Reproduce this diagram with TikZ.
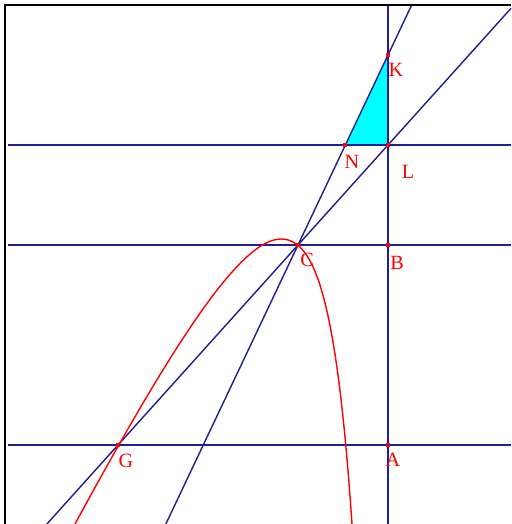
\documentclass[tikz,border=0pt]{standalone}
\usepackage{fontspec}
\setmainfont{Liberation Serif}
\usetikzlibrary{calc}
\definecolor{navy}{RGB}{30,30,150}
\definecolor{ptred}{RGB}{255,0,0}
\definecolor{fillcyan}{RGB}{0,255,255}
\tikzset{
  blueline/.style={draw=navy, line width=0.8pt},
  frameline/.style={draw=black, line width=1.3pt},
  curve/.style={draw=ptred, line width=0.8pt},
  lbl/.style={text=ptred, font=\fontsize{11.5}{13}\selectfont, inner sep=0pt},
  dot/.style={fill=ptred, rectangle, inner sep=0pt, minimum size=2.2pt}
}
\begin{document}
\begin{tikzpicture}[x=0.02cm,y=-0.02cm]
\useasboundingbox (0,0) rectangle (511,524);
\fill[white] (0,0) rectangle (511,524);
% points
\coordinate (K) at (388,55);
\coordinate (L) at (388,145);
\coordinate (N) at (345.4,145);
\coordinate (C) at (298,245);
\coordinate (B) at (388,245);
\coordinate (A) at (388,445);
\coordinate (G) at (118,445);
% frame ends
\coordinate (TL) at (5,5);
\coordinate (TR) at (511,5);
\coordinate (BL) at (5,524);
\coordinate (h1l) at (8,145);  \coordinate (h1r) at (511,145);
\coordinate (h2l) at (8,245);  \coordinate (h2r) at (511,245);
\coordinate (h3l) at (8,445);  \coordinate (h3r) at (511,445);
\coordinate (vt) at (388,5);   \coordinate (vb) at (388,524);
% curve ends
\coordinate (cs) at (75,524);
\coordinate (cp) at (281,239);
\coordinate (ce) at (352,524);
% triangle
\fill[fillcyan] (K) -- (L) -- (N) -- cycle;
% horizontal and vertical lines
\draw[blueline] (h1l) -- (h1r);
\draw[blueline] (h2l) -- (h2r);
\draw[blueline] (h3l) -- (h3r);
\draw[blueline] (vt) -- (vb);
% oblique lines
\draw[blueline] ($(C)!-1.4684!(K)$) -- ($(C)!1.2632!(K)$);
\draw[blueline] ($(G)!-0.2633!(L)$) -- ($(G)!1.4556!(L)$);
% curve
\draw[curve] (cs) .. controls (175,340) and (241,239) .. (cp)
                  .. controls (316,239) and (337,304) .. (ce);
% frame
\draw[frameline] (BL) -- (TL) -- (TR);
% dots
\foreach \p in {K,L,N,C,B,A,G} \node[dot] at (\p) {};
% labels
\node[lbl] (lK) at (396,70) {K};
\node[lbl] (lN) at (352,162) {N};
\node[lbl] (lL) at (408,172) {L};
\node[lbl] (lC) at (307,260) {C};
\node[lbl] (lB) at (397,263) {B};
\node[lbl] (lG) at (126,461) {G};
\node[lbl] (lA) at (393,460) {A};
\end{tikzpicture}
\end{document}
